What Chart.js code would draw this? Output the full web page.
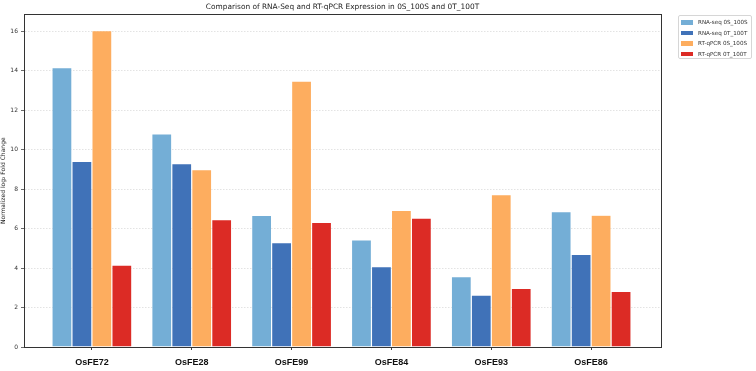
<!DOCTYPE html>
<html><head><meta charset="utf-8">
<script src="https://cdn.jsdelivr.net/npm/chart.js@4.4.0/dist/chart.umd.min.js"></script>
<style>
html,body{margin:0;padding:0;background:#fff;}
#wrap{position:relative;width:756px;height:371px;}
#legend{position:absolute;left:678px;top:15px;width:74px;height:44px;border:1px solid #d6d6d6;border-radius:2px;font-family:'DejaVu Sans';font-size:5.6px;color:#333;box-sizing:border-box;padding:1px 2px;}
.row{display:flex;align-items:center;height:10.5px;}
.sw{width:12px;height:4.5px;margin-right:5px;flex:none;}
</style></head>
<body><div id="wrap"><canvas id="c" style="width:756px;height:371px"></canvas><div id="legend"></div></div>
<script>
const categories = ['OsFE72','OsFE28','OsFE99','OsFE84','OsFE93','OsFE86'];
const rnaSeq0S = [14.15, 10.8, 6.67, 5.42, 3.56, 6.86];
const rnaSeq0T = [9.40, 9.29, 5.28, 4.07, 2.63, 4.69];
const qpcr0S = [16.03, 8.98, 13.47, 6.92, 7.72, 6.68];
const qpcr0T = [4.15, 6.45, 6.31, 6.53, 2.97, 2.82];
const yTicks = [0,2,4,6,8,10,12,14,16];
const seriesLabels = ['RNA-seq 0S_100S','RNA-seq 0T_100T','RT-qPCR 0S_100S','RT-qPCR 0T_100T'];
const seriesColors = ['#74aed6','#4072b8','#fdad5f','#dc2b25'];
const seriesValues = [rnaSeq0S, rnaSeq0T, qpcr0S, qpcr0T];

const datasets = seriesValues.map((vals, k) => ({
  label: seriesLabels[k],
  data: vals.map((v, i) => ({x: i, y: v})),
  backgroundColor: seriesColors[k],
  borderColor: 'rgba(255,255,255,0.5)',
  borderWidth: 0.6,
  categoryPercentage: 0.8,
  barPercentage: 1.0
}));

const framePlugin = {
  id: 'frame',
  afterDraw(chart) {
    const {ctx, chartArea: a} = chart;
    ctx.save();
    ctx.strokeStyle = '#333';
    ctx.lineWidth = 1;
    ctx.strokeRect(Math.round(a.left) + 0.5, Math.round(a.top) + 0.5, Math.round(a.right - a.left), Math.round(a.bottom - a.top));
    ctx.restore();
  }
};

new Chart(document.getElementById('c'), {
  type: 'bar',
  data: { datasets },
  plugins: [framePlugin],
  options: {
    responsive: false,
    animation: false,
    layout: { padding: { left: 0, right: 95, top: 0, bottom: 0 } },
    plugins: {
      legend: { display: false },
      tooltip: { enabled: false },
      title: {
        display: true,
        text: 'Comparison of RNA-Seq and RT-qPCR Expression in 0S_100S and 0T_100T',
        font: { family: 'DejaVu Sans', size: 7.4, weight: 'normal' },
        color: '#222',
        padding: { top: 3, bottom: 2.5 },
        fullSize: false
      }
    },
    scales: {
      x: {
        type: 'linear',
        offset: false,
        min: -0.68,
        max: 5.70,
        afterBuildTicks: s => { s.ticks = categories.map((_, i) => ({ value: i })); },
        afterFit: s => { s.height = 24; },
        ticks: {
          autoSkip: false, maxRotation: 0, padding: 7,
          callback: v => categories[v] ?? '',
          font: { family: 'Liberation Sans', size: 9, weight: 'bold' },
          color: '#111'
        },
        grid: { display: true, offset: false, drawOnChartArea: false, tickLength: 3, tickColor: '#444' },
        border: { color: '#333' }
      },
      y: {
        min: 0,
        max: 16.85,
        afterBuildTicks: s => { s.ticks = yTicks.map(v => ({ value: v })); },
        afterFit: s => { s.width = 24; },
        ticks: {
          padding: 3,
          font: { family: 'DejaVu Sans', size: 6 },
          color: '#333'
        },
        grid: { color: '#dcdcdc', tickLength: 3, tickColor: '#444', lineWidth: 0.8 },
        border: { color: '#333', dash: [1.5, 1.5] },
        title: {
          display: true,
          text: 'Normalized log\u2082 Fold Change',
          font: { family: 'DejaVu Sans', size: 6 },
          color: '#222',
          padding: 0
        }
      }
    }
  }
});

const lg = document.getElementById('legend');
seriesLabels.forEach((t, k) => {
  const r = document.createElement('div'); r.className = 'row';
  const s = document.createElement('span'); s.className = 'sw'; s.style.background = seriesColors[k];
  const l = document.createElement('span'); l.textContent = t;
  r.appendChild(s); r.appendChild(l); lg.appendChild(r);
});
</script>
</body></html>
